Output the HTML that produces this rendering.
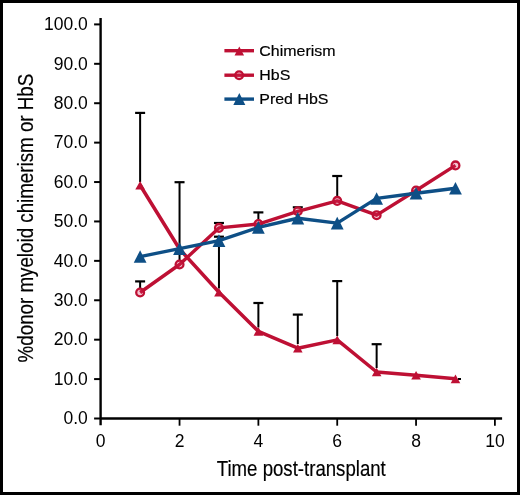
<!DOCTYPE html>
<html><head><meta charset="utf-8"><style>
html,body{margin:0;padding:0;background:#fff;}
body{width:520px;height:495px;overflow:hidden;position:relative;}
.frame{position:absolute;left:0;top:0;width:520px;height:495px;box-sizing:border-box;border:3px solid #000;}
svg{position:absolute;left:0;top:0;will-change:transform;}
text{font-family:"Liberation Sans",sans-serif;fill:#000;stroke:#000;stroke-width:0.2px;}
.tk{font-size:17.5px;stroke:none;}
.lg{font-size:15.5px;}
.ti{font-size:22.5px;}
</style></head><body>
<div class="frame"></div>
<svg width="520" height="495" viewBox="0 0 520 495">
<line x1="100.6" y1="17.9" x2="100.6" y2="425.3" stroke="#000" stroke-width="2.4"/>
<line x1="100" y1="418.5" x2="502.1" y2="418.5" stroke="#000" stroke-width="2.4"/>
<line x1="94.1" y1="418.50" x2="100" y2="418.50" stroke="#000" stroke-width="2"/>
<text x="87.8" y="424.30" text-anchor="end" class="tk">0.0</text>
<line x1="94.1" y1="379.09" x2="100" y2="379.09" stroke="#000" stroke-width="2"/>
<text x="87.8" y="384.89" text-anchor="end" class="tk">10.0</text>
<line x1="94.1" y1="339.68" x2="100" y2="339.68" stroke="#000" stroke-width="2"/>
<text x="87.8" y="345.48" text-anchor="end" class="tk">20.0</text>
<line x1="94.1" y1="300.27" x2="100" y2="300.27" stroke="#000" stroke-width="2"/>
<text x="87.8" y="306.07" text-anchor="end" class="tk">30.0</text>
<line x1="94.1" y1="260.86" x2="100" y2="260.86" stroke="#000" stroke-width="2"/>
<text x="87.8" y="266.66" text-anchor="end" class="tk">40.0</text>
<line x1="94.1" y1="221.45" x2="100" y2="221.45" stroke="#000" stroke-width="2"/>
<text x="87.8" y="227.25" text-anchor="end" class="tk">50.0</text>
<line x1="94.1" y1="182.04" x2="100" y2="182.04" stroke="#000" stroke-width="2"/>
<text x="87.8" y="187.84" text-anchor="end" class="tk">60.0</text>
<line x1="94.1" y1="142.63" x2="100" y2="142.63" stroke="#000" stroke-width="2"/>
<text x="87.8" y="148.43" text-anchor="end" class="tk">70.0</text>
<line x1="94.1" y1="103.22" x2="100" y2="103.22" stroke="#000" stroke-width="2"/>
<text x="87.8" y="109.02" text-anchor="end" class="tk">80.0</text>
<line x1="94.1" y1="63.81" x2="100" y2="63.81" stroke="#000" stroke-width="2"/>
<text x="87.8" y="69.61" text-anchor="end" class="tk">90.0</text>
<line x1="94.1" y1="24.40" x2="100" y2="24.40" stroke="#000" stroke-width="2"/>
<text x="87.8" y="30.20" text-anchor="end" class="tk">100.0</text>
<text x="100.70" y="446.6" text-anchor="middle" class="tk">0</text>
<line x1="179.54" y1="418.5" x2="179.54" y2="425.7" stroke="#000" stroke-width="1.8"/>
<text x="179.54" y="446.6" text-anchor="middle" class="tk">2</text>
<line x1="258.38" y1="418.5" x2="258.38" y2="425.7" stroke="#000" stroke-width="1.8"/>
<text x="258.38" y="446.6" text-anchor="middle" class="tk">4</text>
<line x1="337.22" y1="418.5" x2="337.22" y2="425.7" stroke="#000" stroke-width="1.8"/>
<text x="337.22" y="446.6" text-anchor="middle" class="tk">6</text>
<line x1="416.06" y1="418.5" x2="416.06" y2="425.7" stroke="#000" stroke-width="1.8"/>
<text x="416.06" y="446.6" text-anchor="middle" class="tk">8</text>
<line x1="494.90" y1="418.5" x2="494.90" y2="425.7" stroke="#000" stroke-width="1.8"/>
<text x="494.90" y="446.6" text-anchor="middle" class="tk">10</text>
<line x1="140.12" y1="112.90" x2="140.12" y2="182.00" stroke="#000" stroke-width="2"/>
<line x1="135.12" y1="112.90" x2="145.12" y2="112.90" stroke="#000" stroke-width="2.2"/>
<line x1="140.12" y1="281.40" x2="140.12" y2="288.00" stroke="#000" stroke-width="2"/>
<line x1="135.12" y1="281.40" x2="145.12" y2="281.40" stroke="#000" stroke-width="2.2"/>
<line x1="179.54" y1="182.20" x2="179.54" y2="260.00" stroke="#000" stroke-width="2"/>
<line x1="174.54" y1="182.20" x2="184.54" y2="182.20" stroke="#000" stroke-width="2.2"/>
<line x1="218.96" y1="223.00" x2="218.96" y2="224.00" stroke="#000" stroke-width="2"/>
<line x1="213.96" y1="223.00" x2="223.96" y2="223.00" stroke="#000" stroke-width="2.2"/>
<line x1="218.96" y1="236.70" x2="218.96" y2="288.50" stroke="#000" stroke-width="2"/>
<line x1="213.96" y1="236.70" x2="223.96" y2="236.70" stroke="#000" stroke-width="2.2"/>
<line x1="258.38" y1="212.40" x2="258.38" y2="220.00" stroke="#000" stroke-width="2"/>
<line x1="253.38" y1="212.40" x2="263.38" y2="212.40" stroke="#000" stroke-width="2.2"/>
<line x1="258.38" y1="303.00" x2="258.38" y2="327.50" stroke="#000" stroke-width="2"/>
<line x1="253.38" y1="303.00" x2="263.38" y2="303.00" stroke="#000" stroke-width="2.2"/>
<line x1="297.80" y1="207.30" x2="297.80" y2="208.00" stroke="#000" stroke-width="2"/>
<line x1="292.80" y1="207.30" x2="302.80" y2="207.30" stroke="#000" stroke-width="2.2"/>
<line x1="297.80" y1="314.60" x2="297.80" y2="344.00" stroke="#000" stroke-width="2"/>
<line x1="292.80" y1="314.60" x2="302.80" y2="314.60" stroke="#000" stroke-width="2.2"/>
<line x1="337.22" y1="176.00" x2="337.22" y2="197.00" stroke="#000" stroke-width="2"/>
<line x1="332.22" y1="176.00" x2="342.22" y2="176.00" stroke="#000" stroke-width="2.2"/>
<line x1="337.22" y1="281.10" x2="337.22" y2="336.00" stroke="#000" stroke-width="2"/>
<line x1="332.22" y1="281.10" x2="342.22" y2="281.10" stroke="#000" stroke-width="2.2"/>
<line x1="376.64" y1="344.20" x2="376.64" y2="368.00" stroke="#000" stroke-width="2"/>
<line x1="371.64" y1="344.20" x2="381.64" y2="344.20" stroke="#000" stroke-width="2.2"/>
<rect x="458" y="378" width="3" height="2" fill="#000"/>
<polyline points="140.12,185.23 179.54,249.04 218.96,292.23 258.38,331.36 297.80,348.19 337.22,339.84 376.64,372.00 416.06,375.19 455.48,378.85" fill="none" stroke="#be1034" stroke-width="3.5" stroke-linejoin="round"/>
<polygon points="140.12,180.93 144.92,189.53 135.32,189.53" fill="#be1034"/>
<polygon points="179.54,244.74 184.34,253.34 174.74,253.34" fill="#be1034"/>
<polygon points="218.96,287.93 223.76,296.53 214.16,296.53" fill="#be1034"/>
<polygon points="258.38,327.06 263.18,335.66 253.58,335.66" fill="#be1034"/>
<polygon points="297.80,343.89 302.60,352.49 293.00,352.49" fill="#be1034"/>
<polygon points="337.22,335.54 342.02,344.14 332.42,344.14" fill="#be1034"/>
<polygon points="376.64,367.70 381.44,376.30 371.84,376.30" fill="#be1034"/>
<polygon points="416.06,370.89 420.86,379.49 411.26,379.49" fill="#be1034"/>
<polygon points="455.48,374.55 460.28,383.15 450.68,383.15" fill="#be1034"/>
<polyline points="140.12,292.51 179.54,264.49 218.96,227.91 258.38,224.01 297.80,211.28 337.22,200.92 376.64,215.18 416.06,190.51 455.48,165.41" fill="none" stroke="#be1034" stroke-width="3.4" stroke-linejoin="round"/>
<circle cx="140.12" cy="292.51" r="3.9" fill="rgba(215,40,85,0.28)" stroke="#be1034" stroke-width="2.3"/>
<circle cx="179.54" cy="264.49" r="3.9" fill="rgba(215,40,85,0.28)" stroke="#be1034" stroke-width="2.3"/>
<circle cx="218.96" cy="227.91" r="3.9" fill="rgba(215,40,85,0.28)" stroke="#be1034" stroke-width="2.3"/>
<circle cx="258.38" cy="224.01" r="3.9" fill="rgba(215,40,85,0.28)" stroke="#be1034" stroke-width="2.3"/>
<circle cx="297.80" cy="211.28" r="3.9" fill="rgba(215,40,85,0.28)" stroke="#be1034" stroke-width="2.3"/>
<circle cx="337.22" cy="200.92" r="3.9" fill="rgba(215,40,85,0.28)" stroke="#be1034" stroke-width="2.3"/>
<circle cx="376.64" cy="215.18" r="3.9" fill="rgba(215,40,85,0.28)" stroke="#be1034" stroke-width="2.3"/>
<circle cx="416.06" cy="190.51" r="3.9" fill="rgba(215,40,85,0.28)" stroke="#be1034" stroke-width="2.3"/>
<circle cx="455.48" cy="165.41" r="3.9" fill="rgba(215,40,85,0.28)" stroke="#be1034" stroke-width="2.3"/>
<polyline points="140.12,256.56 179.54,248.60 218.96,240.60 258.38,227.40 297.80,218.22 337.22,223.14 376.64,198.43 416.06,193.19 455.48,188.27" fill="none" stroke="#0e4f86" stroke-width="3.4" stroke-linejoin="round"/>
<polygon points="140.12,250.26 146.52,262.86 133.72,262.86" fill="#0e4f86"/>
<polygon points="179.54,242.30 185.94,254.90 173.14,254.90" fill="#0e4f86"/>
<polygon points="218.96,234.30 225.36,246.90 212.56,246.90" fill="#0e4f86"/>
<polygon points="258.38,221.10 264.78,233.70 251.98,233.70" fill="#0e4f86"/>
<polygon points="297.80,211.92 304.20,224.52 291.40,224.52" fill="#0e4f86"/>
<polygon points="337.22,216.84 343.62,229.44 330.82,229.44" fill="#0e4f86"/>
<polygon points="376.64,192.13 383.04,204.73 370.24,204.73" fill="#0e4f86"/>
<polygon points="416.06,186.89 422.46,199.49 409.66,199.49" fill="#0e4f86"/>
<polygon points="455.48,181.97 461.88,194.57 449.08,194.57" fill="#0e4f86"/>
<line x1="224.4" y1="50.7" x2="254" y2="50.7" stroke="#be1034" stroke-width="3.4"/>
<polygon points="239.30,46.40 244.05,55.40 234.55,55.40" fill="#be1034"/>
<line x1="224.4" y1="75.2" x2="254" y2="75.2" stroke="#be1034" stroke-width="3.4"/>
<circle cx="239.1" cy="75.3" r="3.9" fill="rgba(215,40,85,0.28)" stroke="#be1034" stroke-width="2.3"/>
<line x1="224.4" y1="99.1" x2="254" y2="99.1" stroke="#0e4f86" stroke-width="3.4"/>
<polygon points="239.30,93.10 245.30,105.10 233.30,105.10" fill="#0e4f86"/>
<text class="lg" transform="translate(259.3,55.6) scale(1.03,1)">Chimerism</text>
<text class="lg" transform="translate(259.3,79.9) scale(1.03,1)">HbS</text>
<text class="lg" transform="translate(259.3,103.7) scale(1.03,1)">Pred HbS</text>
<text x="0" y="0" class="ti" transform="translate(216.8,476) scale(0.828,1)">Time post-transplant</text>
<text x="0" y="0" class="ti" transform="translate(33.3,362.4) rotate(-90) scale(0.834,1)">%donor myeloid chimerism or HbS</text>
</svg>
</body></html>
